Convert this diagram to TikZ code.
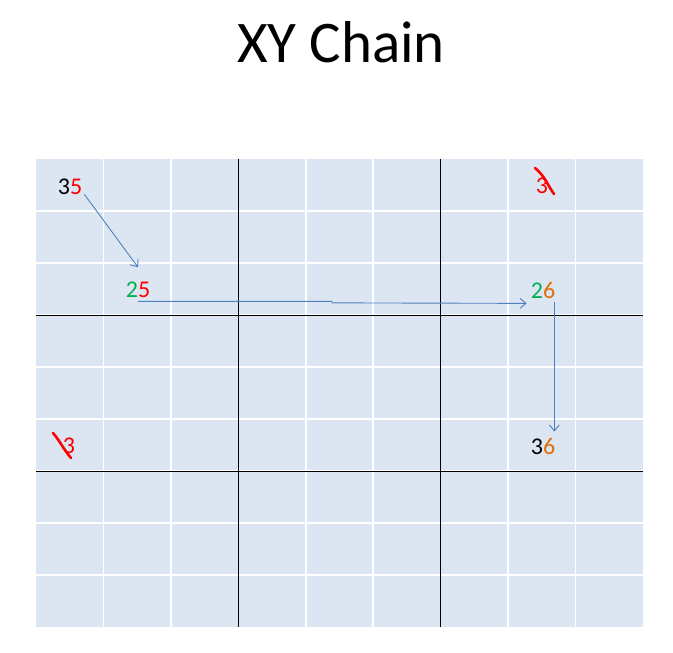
\documentclass[tikz,border=0pt]{standalone}
\usepackage{fontspec}
\setmainfont{Carlito}
\usetikzlibrary{arrows.meta}
\definecolor{cellblue}{RGB}{220,230,242}
\definecolor{linkblue}{RGB}{79,129,189}
\definecolor{digitgreen}{RGB}{0,176,80}
\definecolor{digitorange}{RGB}{228,108,10}

\begin{document}
\begin{tikzpicture}[x=1pt, y=-1pt,
  num/.style={inner sep=0pt, anchor=base, font=\fontsize{24}{28}\selectfont},
  gridline/.style={white, line width=1.5pt},
  boxline/.style={black, line width=0.9pt},
  link/.style={linkblue, line width=0.9pt, -{Straight Barb[length=6pt, width=10pt]}},
  strike/.style={red, line width=2.6pt, line cap=round}]
  \useasboundingbox (0,0) rectangle (673,653);

  \node[font=\fontsize{59}{62}\selectfont, anchor=base] (title) at (341,62) {XY Chain};

  % cells
  \fill[cellblue] (36,159) rectangle (643,627);
  \foreach \i in {1,...,8} {
    \draw[gridline] ({36+\i*67.44},159) -- ({36+\i*67.44},627);
    \draw[gridline] (36,{159+\i*52}) -- (643,{159+\i*52});
  }
  % box borders
  \foreach \i in {3,6} {
    \draw[boxline] ({36+\i*67.44},159) -- ({36+\i*67.44},627);
    \draw[boxline] (36,{159+\i*52}) -- (643,{159+\i*52});
  }

  \node[num] (n35) at (70,194) {3\textcolor{red}{5}};
  \node[num] (n25) at (138,297) {\textcolor{digitgreen}{2}\textcolor{red}{5}};
  \node[num] (n26) at (543,298) {\textcolor{digitgreen}{2}\textcolor{digitorange}{6}};
  \node[num] (n36) at (543,454) {3\textcolor{digitorange}{6}};
  \node[num, text=red] (x3a) at (542,193) {3};
  \node[num, text=red] (x3b) at (69,453) {3};

  % crossed out
  \draw[strike] (535,168) .. controls (545,176) and (548,186) .. (554,194);
  \draw[strike] (53,433) .. controls (60,441) and (64,450) .. (71,458);

  \draw[link] ([xshift=2pt]n35.south east) -- ([yshift=14pt]n25.north);
  \draw[link] ([yshift=-4pt]n25.south) -- ++(194,0) -- ++(0,1.5)
    -- ([xshift=-4pt, yshift=-5pt]n26.south west);
  \draw[link] ([xshift=-1pt, yshift=-4pt]n26.south east)
    -- ([xshift=-1pt, yshift=6pt]n36.north east);
\end{tikzpicture}
\end{document}
